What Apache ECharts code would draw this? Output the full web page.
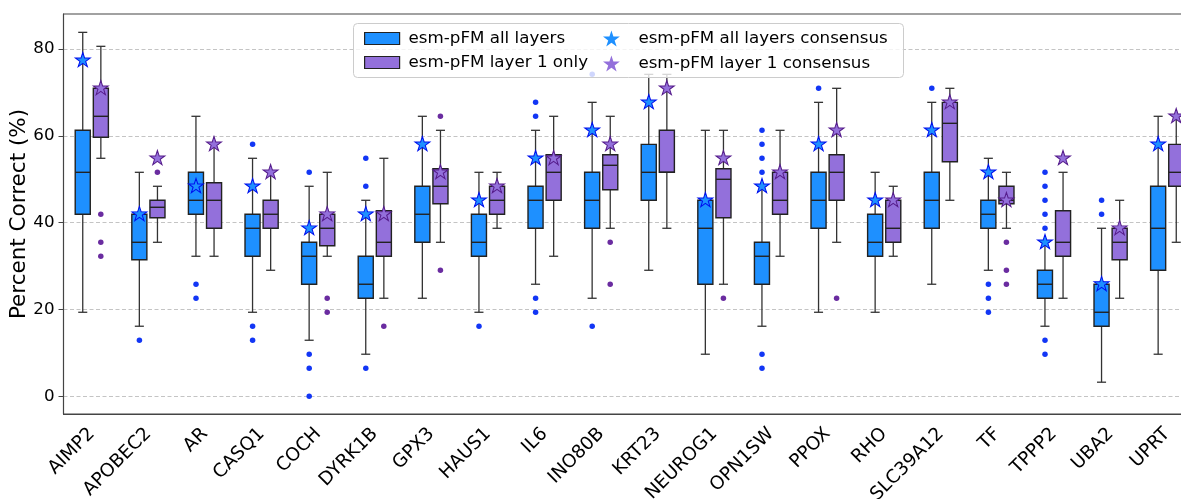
<!DOCTYPE html>
<html>
<head>
    <meta charset="UTF-8">
    <title>esm-pFM boxplot</title>
    <script src="https://cdn.jsdelivr.net/npm/echarts@6/dist/echarts.min.js"></script>
    <style>
        *{margin:0;padding:0}
        html, body{ width:100%; height:100%; background:#fff; }
        #main{ width:1181px; height:499px; }
    </style>
</head>
<body>
    <div id="main"></div>
    <script type="text/javascript">
        // categories
        var genes = ['AIMP2', 'APOBEC2', 'AR', 'CASQ1', 'COCH', 'DYRK1B', 'GPX3', 'HAUS1', 'IL6', 'INO80B',
            'KRT23', 'NEUROG1', 'OPN1SW', 'PPOX', 'RHO', 'SLC39A12', 'TF', 'TPPP2', 'UBA2', 'UPRT'];

        // esm-pFM all layers: [low whisker, Q1, median, Q3, high whisker]
        var allBoxes = [
            [19.35, 41.94, 51.61, 61.29, 83.87],
            [16.13, 31.45, 35.48, 41.94, 51.61],
            [32.26, 41.94, 45.16, 51.61, 64.52],
            [19.35, 32.26, 38.71, 41.94, 54.84],
            [12.90, 25.81, 32.26, 35.48, 48.39],
            [9.68, 22.58, 25.81, 32.26, 45.16],
            [22.58, 35.48, 41.94, 48.39, 64.52],
            [19.35, 32.26, 35.48, 41.94, 51.61],
            [25.81, 38.71, 45.16, 48.39, 61.29],
            [22.58, 38.71, 45.16, 51.61, 67.74],
            [29.03, 45.16, 51.61, 58.06, 74.19],
            [9.68, 25.81, 38.71, 45.16, 61.29],
            [16.13, 25.81, 32.26, 35.48, 48.39],
            [19.35, 38.71, 45.16, 51.61, 67.74],
            [19.35, 32.26, 35.48, 41.94, 51.61],
            [25.81, 38.71, 45.16, 51.61, 67.74],
            [29.03, 38.71, 41.94, 45.16, 54.84],
            [16.13, 22.58, 25.81, 29.03, 35.48],
            [3.23, 16.13, 19.35, 25.81, 38.71],
            [9.68, 29.03, 38.71, 48.39, 64.52]
        ];
        var allConsensus = [77.42, 41.94, 48.39, 48.39, 38.71, 41.94, 58.06, 45.16, 54.84, 61.29,
            67.74, 45.16, 48.39, 58.06, 45.16, 61.29, 51.61, 35.48, 25.81, 58.06];
        var allOutliers = [
            [], [12.90], [25.81, 22.58], [58.06, 16.13, 12.90], [51.61, 9.68, 6.45, 0],
            [54.84, 48.39, 6.45], [], [16.13], [67.74, 64.52, 22.58, 19.35], [74.19, 16.13],
            [], [], [61.29, 58.06, 54.84, 51.61, 9.68, 6.45], [70.97], [],
            [70.97], [25.81, 22.58, 19.35], [51.61, 48.39, 45.16, 41.94, 38.71, 12.90, 9.68], [45.16, 41.94], []
        ];

        // esm-pFM layer 1 only
        var l1Boxes = [
            [54.84, 59.68, 64.52, 70.97, 80.65],
            [35.48, 41.13, 43.55, 45.16, 48.39],
            [32.26, 38.71, 45.16, 49.19, 58.06],
            [29.03, 38.71, 41.94, 45.16, 51.61],
            [32.26, 34.68, 38.71, 41.94, 51.61],
            [22.58, 32.26, 35.48, 42.74, 54.84],
            [35.48, 44.35, 48.39, 52.42, 61.29],
            [38.71, 41.94, 45.16, 48.39, 51.61],
            [32.26, 45.16, 51.61, 55.65, 64.52],
            [38.71, 47.58, 53.23, 55.65, 64.52],
            [38.71, 51.61, 51.61, 61.29, 74.19],
            [25.81, 41.13, 50.00, 52.42, 61.29],
            [32.26, 41.94, 45.16, 51.61, 61.29],
            [35.48, 45.16, 51.61, 55.65, 70.97],
            [32.26, 35.48, 38.71, 45.16, 48.39],
            [45.16, 54.03, 62.90, 67.74, 70.97],
            [38.71, 44.35, 45.16, 48.39, 51.61],
            [22.58, 32.26, 35.48, 42.74, 51.61],
            [22.58, 31.45, 35.48, 38.71, 45.16],
            [35.48, 48.39, 51.61, 58.06, 64.52]
        ];
        var l1Consensus = [70.97, 54.84, 58.06, 51.61, 41.94, 41.94, 51.61, 48.39, 54.84, 58.06,
            70.97, 54.84, 51.61, 61.29, 45.16, 67.74, 45.16, 54.84, 38.71, 64.52];
        var l1Outliers = [
            [41.94, 35.48, 32.26], [51.61], [], [], [22.58, 19.35],
            [16.13], [64.52, 29.03], [], [], [35.48, 25.81],
            [], [22.58], [], [22.58], [],
            [], [35.48, 29.03, 25.81], [], [], []
        ];

        var yTicks = [0, 20, 40, 60, 80];

        var BLUE = '#1E90FF', PURPLE = '#9370DB';
        var FONT = 'DejaVu Sans';
        var STAR = 'path://M0,-100 L22.45,-30.9 L95.11,-30.9 L36.33,11.8 L58.78,80.9 L0,38.2 L-58.78,80.9 L-36.33,11.8 L-95.11,-30.9 L-22.45,-30.9 Z';
        var OFF = 0.16; // box offset as fraction of category width

        function boxRenderer(offset, fill) {
            return function (params, api) {
                var idx = api.value(0);
                var band = api.size([1, 0])[0];
                var cx = api.coord([idx, 0])[0] + offset * band;
                var ys = [1, 2, 3, 4, 5].map(function (d) { return api.coord([idx, api.value(d)])[1]; });
                var hw = band * 0.133, cap = band * 0.08;
                var lineStyle = { stroke: '#333', lineWidth: 1.3 };
                return {
                    type: 'group',
                    children: [
                        { type: 'line', shape: { x1: cx, y1: ys[0], x2: cx, y2: ys[1] }, style: lineStyle },
                        { type: 'line', shape: { x1: cx, y1: ys[3], x2: cx, y2: ys[4] }, style: lineStyle },
                        { type: 'line', shape: { x1: cx - cap, y1: ys[0], x2: cx + cap, y2: ys[0] }, style: lineStyle },
                        { type: 'line', shape: { x1: cx - cap, y1: ys[4], x2: cx + cap, y2: ys[4] }, style: lineStyle },
                        { type: 'rect', shape: { x: cx - hw, y: ys[3], width: 2 * hw, height: ys[1] - ys[3] },
                          style: { fill: fill, stroke: '#222', lineWidth: 1.4 } },
                        { type: 'line', shape: { x1: cx - hw, y1: ys[2], x2: cx + hw, y2: ys[2] },
                          style: { stroke: '#222', lineWidth: 1.4 } }
                    ]
                };
            };
        }

        function toPoints(list) {
            var out = [];
            list.forEach(function (vals, i) {
                vals.forEach(function (v) { out.push([i, v]); });
            });
            return out;
        }

        var myChart = echarts.init(document.getElementById('main'), null, { renderer: 'canvas' });

        var option = {
            animation: false,
            backgroundColor: '#fff',
            textStyle: { fontFamily: FONT },
            grid: {
                left: 63.5, right: -14.5, top: 14, bottom: 85,
                outerBoundsMode: 'none', containLabel: false,
                show: true, borderColor: '#444', borderWidth: 1.1, backgroundColor: 'transparent'
            },
            xAxis: {
                type: 'category',
                data: genes,
                boundaryGap: true,
                axisLine: { onZero: false, lineStyle: { color: '#444', width: 1.1 } },
                axisTick: { alignWithLabel: true, length: 5, lineStyle: { color: '#444' } },
                axisLabel: {
                    interval: 0, rotate: 45, margin: 17,
                    fontSize: 18.5, fontFamily: FONT, color: '#000'
                },
                splitLine: { show: false }
            },
            yAxis: {
                type: 'value',
                min: -4.1, max: 88.1,
                name: 'Percent Correct (%)',
                nameLocation: 'middle',
                nameGap: 33,
                nameMoveOverlap: false,
                nameTextStyle: { fontSize: 21.5, fontFamily: FONT, color: '#000' },
                axisLine: { show: true, lineStyle: { color: '#444', width: 1.1 } },
                axisTick: { show: true, length: 5, lineStyle: { color: '#444' }, customValues: yTicks },
                axisLabel: { fontSize: 16.7, fontFamily: FONT, color: '#000', margin: 9, customValues: yTicks },
                splitLine: { show: true, lineStyle: { color: '#c4c4c4', width: 1, type: [4, 2.5] } }
            },
            legend: [
                {
                    left: 359, top: 25, orient: 'vertical', itemWidth: 35, itemHeight: 12, itemGap: 7,
                    selectedMode: false, z: 10,
                    textStyle: { fontSize: 16.7, fontFamily: FONT, color: '#000', padding: [0, 0, 0, 4] },
                    data: [
                        { name: 'esm-pFM all layers', icon: 'rect', itemStyle: { color: BLUE, borderColor: '#222', borderWidth: 1.2 } },
                        { name: 'esm-pFM layer 1 only', icon: 'rect', itemStyle: { color: PURPLE, borderColor: '#222', borderWidth: 1.2 } }
                    ]
                },
                {
                    left: 598, top: 25, orient: 'vertical', itemWidth: 44, itemHeight: 16, itemGap: 8,
                    selectedMode: false, z: 10,
                    textStyle: { fontSize: 16.7, fontFamily: FONT, color: '#000' },
                    data: [
                        { name: 'esm-pFM all layers consensus', icon: STAR, itemStyle: { color: BLUE, borderWidth: 0 } },
                        { name: 'esm-pFM layer 1 consensus', icon: STAR, itemStyle: { color: PURPLE, borderWidth: 0 } }
                    ]
                }
            ],
            graphic: [
                {
                    type: 'rect', left: 353, top: 23, z: 5,
                    shape: { width: 550, height: 54, r: 4 },
                    style: { fill: 'rgba(255,255,255,0.8)', stroke: '#cccccc', lineWidth: 1 }
                }
            ],
            series: [
                {
                    name: 'esm-pFM all layers',
                    type: 'custom',
                    renderItem: boxRenderer(-OFF, BLUE),
                    itemStyle: { color: BLUE, borderColor: '#222' },
                    encode: { x: 0, y: [1, 2, 3, 4, 5] },
                    data: allBoxes.map(function (b, i) { return [i].concat(b); }),
                    z: 2
                },
                {
                    name: 'esm-pFM layer 1 only',
                    type: 'custom',
                    renderItem: boxRenderer(OFF, PURPLE),
                    itemStyle: { color: PURPLE, borderColor: '#222' },
                    encode: { x: 0, y: [1, 2, 3, 4, 5] },
                    data: l1Boxes.map(function (b, i) { return [i].concat(b); }),
                    z: 2
                },
                {
                    name: 'all outliers',
                    type: 'scatter',
                    symbol: 'circle', symbolSize: 5.5, symbolOffset: [-9, 0],
                    itemStyle: { color: '#1236f5', opacity: 1 },
                    data: toPoints(allOutliers),
                    z: 3
                },
                {
                    name: 'layer 1 outliers',
                    type: 'scatter',
                    symbol: 'circle', symbolSize: 5.5, symbolOffset: [9, 0],
                    itemStyle: { color: '#6a2ca0', opacity: 1 },
                    data: toPoints(l1Outliers),
                    z: 3
                },
                {
                    name: 'esm-pFM all layers consensus',
                    type: 'scatter',
                    symbol: STAR, symbolSize: [15, 14.3], symbolOffset: [-9, -0.7],
                    itemStyle: { color: BLUE, borderColor: '#0010ee', borderWidth: 1, opacity: 1 },
                    data: allConsensus.map(function (v, i) { return [i, v]; }),
                    z: 4
                },
                {
                    name: 'esm-pFM layer 1 consensus',
                    type: 'scatter',
                    symbol: STAR, symbolSize: [15, 14.3], symbolOffset: [9, -0.7],
                    itemStyle: { color: PURPLE, borderColor: '#561d8c', borderWidth: 1, opacity: 1 },
                    data: l1Consensus.map(function (v, i) { return [i, v]; }),
                    z: 4
                }
            ]
        };
        myChart.setOption(option);
    </script>
</body>
</html>
